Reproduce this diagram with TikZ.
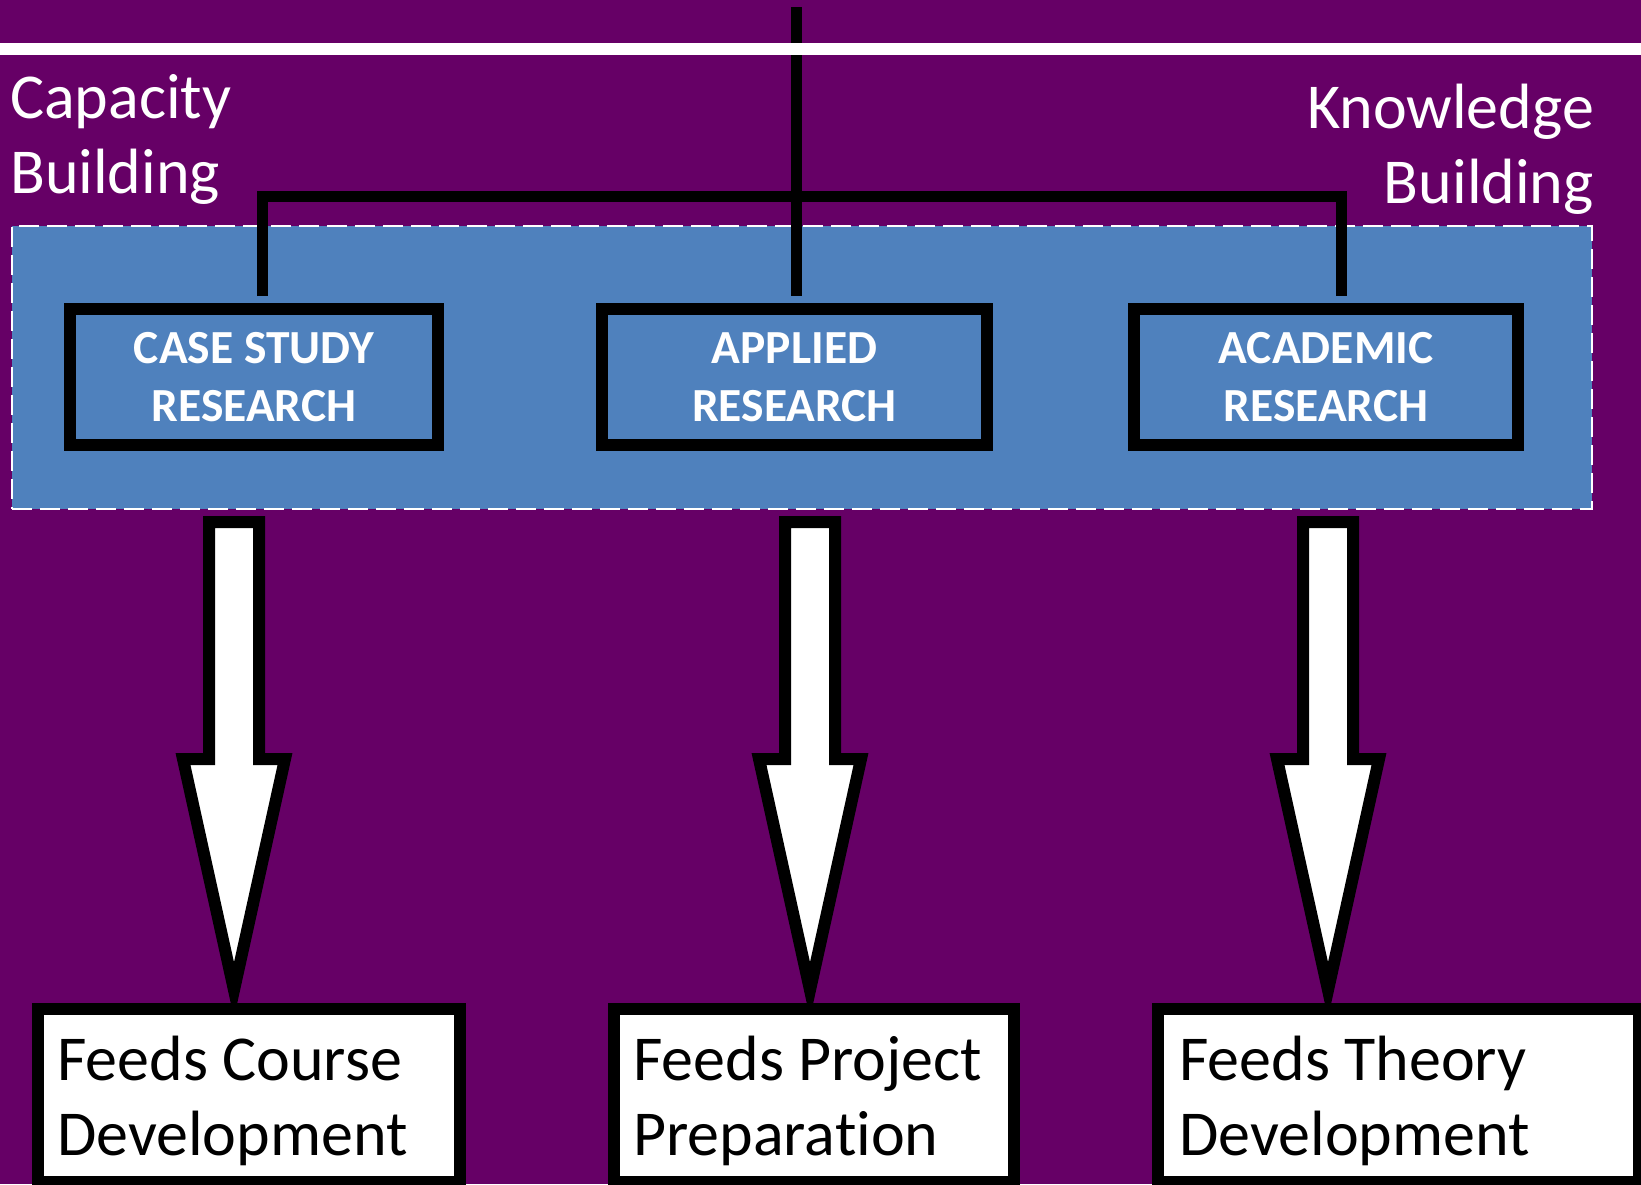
\documentclass[tikz,border=0pt]{standalone}
\usepackage{fontspec}
\setmainfont{Carlito}[Ligatures=NoCommon]
\definecolor{bgpurple}{HTML}{660066}
\definecolor{blueF}{HTML}{4F81BD}
\tikzset{
  conn/.style={draw=black, line width=11pt},
  rbox/.style={draw=black, line width=12pt, fill=blueF, minimum width=#1, minimum height=136pt,
    inner sep=0pt, text=white, align=center, font=\fontsize{47.5}{58}\selectfont\bfseries},
  fbox/.style={draw=black, line width=12pt, fill=white, minimum width=#1, minimum height=173pt, inner sep=0pt},
  blk/.style={draw=black, fill=white, line width=12pt, line join=miter},
  lbl/.style={text=white, inner sep=0pt, font=\fontsize{64}{75}\selectfont},
  ftxt/.style={text=black, inner sep=0pt, font=\fontsize{64}{75}\selectfont},
}
\newcommand\blkarrow[2]{%
  \draw[blk] (#2-25,522) -- (#2+25,522) -- (#2+25,759) -- (#2+51,759) -- (#2,990) coordinate (#1)
     -- (#2-51,759) -- (#2-25,759) -- cycle;}
\begin{document}
\begin{tikzpicture}[x=1pt,y=-1pt]
\useasboundingbox (0,0) rectangle (1641,1184);
\clip (0,0) rectangle (1641,1184);
\fill[bgpurple] (0,0) rectangle (1641,1184);

% dashed region
\node[draw=white, dash pattern=on 20pt off 8pt, line width=2pt, fill=blueF,
      minimum width=1580pt, minimum height=283pt, inner sep=0pt] (region) at (802,367.5) {};

% research boxes
\node[rbox=368pt] (case) at (254,377) {CASE STUDY\\RESEARCH};
\node[rbox=385pt] (appl) at (794.5,377) {APPLIED\\RESEARCH};
\node[rbox=384pt] (acad) at (1326,377) {ACADEMIC\\RESEARCH};

% connectors
\coordinate (topend) at (796,7);
\draw[conn] (topend) -- ([xshift=1.5pt,yshift=7pt]appl.north);
\draw[conn] ([xshift=8pt,yshift=7pt]case.north) |- ([xshift=15pt,yshift=107pt]acad.north)
            -- ([xshift=15pt,yshift=7pt]acad.north);
\draw[white, line width=12pt] (0,49) -- (1641,49);

% labels
\node[lbl, anchor=base west] (cap) at (10,118)
  {\begin{tabular}[t]{@{}l@{}}Capacity\\Building\end{tabular}};
\node[lbl, anchor=base east] (know) at (1594,128)
  {\begin{tabular}[t]{@{}r@{}}Knowledge\\Building\end{tabular}};

% block arrows
\blkarrow{t1}{234}
\blkarrow{t2}{810}
\blkarrow{t3}{1328}

% bottom boxes
\node[fbox=422pt] (f1) at (249,1095.5) {};
\node[fbox=400pt] (f2) at (814,1095.5) {};
\node[fbox=481pt] (f3) at (1398.5,1095.5) {};
\node[ftxt, anchor=base west] (f1t) at (57,1080)
  {\begin{tabular}[t]{@{}l@{}}Feeds Course\\Development\end{tabular}};
\node[ftxt, anchor=base west] (f2t) at (633,1080)
  {\begin{tabular}[t]{@{}l@{}}Feeds Project\\Preparation\end{tabular}};
\node[ftxt, anchor=base west] (f3t) at (1179,1080)
  {\begin{tabular}[t]{@{}l@{}}Feeds Theory\\Development\end{tabular}};
\end{tikzpicture}
\end{document}
